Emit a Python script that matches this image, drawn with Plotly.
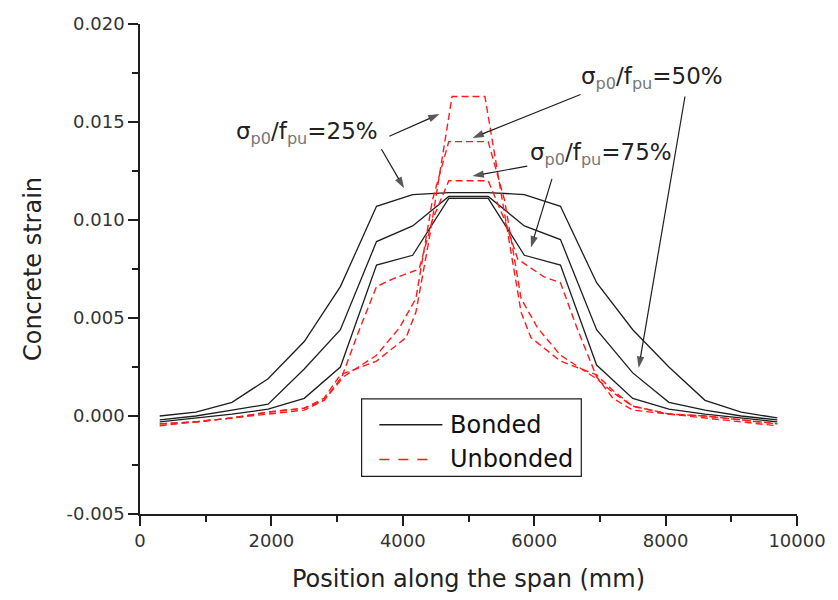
import plotly.graph_objects as go

# ---------------- data ----------------
bonded_x = [300, 850, 1400, 1950, 2500, 3050, 3600, 4150, 4700, 5300, 5850, 6400, 6950, 7500, 8050, 8600, 9150, 9700]
bonded_25 = [0.0000, 0.0002, 0.0007, 0.0019, 0.0038, 0.0066, 0.0107, 0.0113, 0.0114, 0.0114, 0.0113, 0.0107, 0.0068, 0.0044, 0.0025, 0.0008, 0.0002, -0.0001]
bonded_50 = [-0.0002, 0.0000, 0.0003, 0.0006, 0.0024, 0.0044, 0.0089, 0.0097, 0.0112, 0.0112, 0.0097, 0.0090, 0.0044, 0.0022, 0.0007, 0.0003, 0.0000, -0.0002]
bonded_75 = [-0.0003, -0.0001, 0.0001, 0.00035, 0.0009, 0.0025, 0.0077, 0.0082, 0.0111, 0.0111, 0.0082, 0.0077, 0.0026, 0.0009, 0.00035, 0.0001, -0.0001, -0.0003]

unb25_x = [300, 850, 1400, 1950, 2500, 2800, 3050, 3600, 4050, 4200, 4400, 4750, 5250, 5600, 5800, 5950, 6400, 6950, 7200, 7500, 8050, 8600, 9150, 9700]
unb25_y = [-0.0004, -0.0003, -0.0001, 0.0002, 0.0004, 0.0009, 0.0021, 0.0028, 0.0040, 0.0053, 0.0090, 0.0163, 0.0163, 0.0092, 0.0053, 0.0040, 0.0028, 0.0021, 0.0013, 0.0005, 0.0001, 0.0000, -0.0002, -0.0004]

unb50_x = [300, 850, 1400, 1950, 2500, 2800, 3050, 3600, 3950, 4200, 4450, 4700, 5300, 5550, 5800, 6050, 6400, 6950, 7200, 7500, 8050, 8600, 9150, 9700]
unb50_y = [-0.0004, -0.0003, -0.0001, 0.0002, 0.0004, 0.0008, 0.0019, 0.0031, 0.0045, 0.0060, 0.0110, 0.0140, 0.0140, 0.0110, 0.0060, 0.0045, 0.0031, 0.0019, 0.0012, 0.0005, 0.0001, 0.0000, -0.0002, -0.0004]

unb75_x = [300, 850, 1400, 1950, 2500, 2800, 3050, 3350, 3600, 3850, 4250, 4450, 4700, 5300, 5550, 5750, 6150, 6400, 6650, 6950, 7200, 7500, 8050, 8600, 9150, 9700]
unb75_y = [-0.0005, -0.0003, -0.0001, 0.0001, 0.0003, 0.0008, 0.0018, 0.0045, 0.0066, 0.0070, 0.0075, 0.0100, 0.0120, 0.0120, 0.0100, 0.0080, 0.0071, 0.0068, 0.0045, 0.0020, 0.0009, 0.0003, 0.0001, -0.0001, -0.0003, -0.0005]

x_ticks = [0, 2000, 4000, 6000, 8000, 10000]
y_ticks = [-0.005, 0.000, 0.005, 0.010, 0.015, 0.020]
legend_labels = ["Bonded", "Unbonded"]
ratio_labels = ["25%", "50%", "75%"]

FONT = "DejaVu Sans"
BLACK = "#1e1e1e"
RED = "#ff1a1a"

fig = go.Figure()
for yv in [bonded_25, bonded_50, bonded_75]:
    fig.add_trace(go.Scatter(x=bonded_x, y=yv, mode="lines", showlegend=False,
                             line=dict(color=BLACK, width=1.3), hoverinfo="skip"))
for xv, yv in [(unb25_x, unb25_y), (unb50_x, unb50_y), (unb75_x, unb75_y)]:
    fig.add_trace(go.Scatter(x=xv, y=yv, mode="lines", showlegend=False,
                             line=dict(color=RED, width=1.4, dash="7px,4px"), hoverinfo="skip"))

# ---------------- ratio labels ----------------
def ratio_text(r):
    return ("σ<sub><span style='color:#777'>p0</span></sub>/f"
            "<sub><span style='color:#777'>pu</span></sub>=" + r)

label_pos = [(2549, 0.01445), (7790, 0.01725), (7010, 0.01335)]
for r, (lx, ly) in zip(ratio_labels, label_pos):
    fig.add_annotation(x=lx, y=ly, xref="x", yref="y", text=ratio_text(r), showarrow=False,
                       font=dict(family=FONT, size=23, color="#222"))

# pointer arrows (tail -> head), drawn as short lines with an arrow marker at the head
arrows = [
    ((3795, 0.01427), (4560, 0.01541)),
    ((3675, 0.01361), (4020, 0.01162)),
    ((6705, 0.01640), (5060, 0.01419)),
    ((8295, 0.01630), (7590, 0.00245)),
    ((5895, 0.01275), (5060, 0.01224)),
    ((6270, 0.01210), (5950, 0.00860)),
]
for (tx, ty), (hx, hy) in arrows:
    fig.add_trace(go.Scatter(x=[tx, hx], y=[ty, hy], mode="lines+markers", showlegend=False,
                             hoverinfo="skip", line=dict(color=BLACK, width=1.2),
                             marker=dict(symbol="arrow", angleref="previous", size=[0, 12],
                                         color="#111", line=dict(width=0))))

# ---------------- manual legend ----------------
fig.add_shape(type="rect", xref="paper", yref="paper", x0=0.3373, x1=0.6717, y0=0.0769, y1=0.2348,
              line=dict(color=BLACK, width=1.2), fillcolor="white", layer="above")
fig.add_shape(type="line", xref="paper", yref="paper", x0=0.3643, x1=0.4603, y0=0.1822, y1=0.1822,
              line=dict(color=BLACK, width=1.4), layer="above")
fig.add_shape(type="line", xref="paper", yref="paper", x0=0.3643, x1=0.4378, y0=0.1113, y1=0.1113,
              line=dict(color=RED, width=1.6, dash="10px,9px"), layer="above")
for lab, py in zip(legend_labels, [0.1822, 0.1113]):
    fig.add_annotation(x=0.4693, y=py, xref="paper", yref="paper", text=lab, showarrow=False,
                       xanchor="left", yanchor="middle", font=dict(family=FONT, size=24, color="#111"))

fig.update_xaxes(range=[0, 10000], tickvals=x_ticks, ticktext=[str(v) for v in x_ticks],
                 showline=True, linecolor=BLACK, linewidth=1.5, ticks="outside", ticklen=10,
                 tickwidth=1.5, tickcolor=BLACK, showgrid=False, zeroline=False,
                 minor=dict(ticks="outside", ticklen=6, dtick=1000, tickcolor=BLACK, tickwidth=1.5, showgrid=False),
                 tickfont=dict(family=FONT, size=18, color="#333"),
                 title=dict(text="Position along the span (mm)", font=dict(family=FONT, size=24, color="#222"), standoff=20))
fig.update_yaxes(range=[-0.005, 0.020], tickvals=y_ticks, ticktext=["%.3f" % v for v in y_ticks],
                 showline=True, linecolor=BLACK, linewidth=1.5, ticks="outside", ticklen=10,
                 tickwidth=1.5, tickcolor=BLACK, showgrid=False, zeroline=False,
                 minor=dict(ticks="outside", ticklen=6, dtick=0.0025, tickcolor=BLACK, tickwidth=1.5, showgrid=False),
                 tickfont=dict(family=FONT, size=18, color="#333"),
                 title=dict(text="Concrete strain", font=dict(family=FONT, size=24, color="#222"), standoff=18))

fig.update_layout(width=838, height=600, margin=dict(l=140, r=31, t=24, b=82),
                  paper_bgcolor="white", plot_bgcolor="white", showlegend=False)

fig.write_html("out.html")
